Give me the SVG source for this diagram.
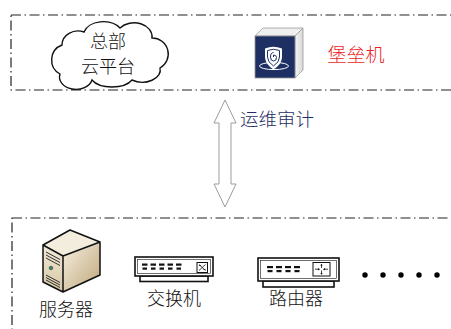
<svg xmlns="http://www.w3.org/2000/svg" width="451" height="329" viewBox="0 0 451 329">
  <style>
    .zone { fill: none; stroke: #222; stroke-width: 1.2; stroke-dasharray: 10 3.5 1.5 3.5; }
    .label { font-family: "Noto Sans CJK SC", "Noto Sans", sans-serif; font-weight: 300; font-size: 18px; fill: #111; text-anchor: middle; }
    .dev { fill: #fff; stroke: #111; stroke-width: 1.6; }
    .port { fill: #111; }
  </style>
  <defs>
    <linearGradient id="srvSide" x1="0" y1="0" x2="1" y2="1">
      <stop offset="0" stop-color="#f6f0e2"/>
      <stop offset="1" stop-color="#bfa77a"/>
    </linearGradient>
    <linearGradient id="srvFront" x1="0" y1="0" x2="0" y2="1">
      <stop offset="0" stop-color="#f1ead8"/>
      <stop offset="1" stop-color="#d6c7a2"/>
    </linearGradient>
    <linearGradient id="boxSide" x1="0" y1="0" x2="1" y2="0">
      <stop offset="0" stop-color="#f4f4f4"/>
      <stop offset="1" stop-color="#d8d8d8"/>
    </linearGradient>
  </defs>

  <!-- zones -->
  <rect class="zone" x="11" y="15" width="460" height="75"/>
  <rect class="zone" x="12" y="218" width="460" height="130"/>

  <!-- cloud platform -->
  <g id="cloud">
    <path d="M62,45 A16,14 0 0 1 84,32 A20,14 0 0 1 120,28 A18,14 0 0 1 152,38 A16,16 0 0 1 160,68 A18,12 0 0 1 132,80 A22,12 0 0 1 92,80 A16,12 0 0 1 60,74 A16,16 0 0 1 62,45 Z" fill="#fff" stroke="#111" stroke-width="1.4"/>
    <text class="label" x="108" y="48">总部</text>
    <text class="label" x="108" y="72.5">云平台</text>
  </g>

  <!-- bastion host -->
  <g id="bastion">
    <polygon points="255,36 263,28 303,28 295,36" fill="#efefef" stroke="#9a9a9a" stroke-width="0.8"/>
    <polygon points="295,36 303,28 303,70 295,78" fill="url(#boxSide)" stroke="#9a9a9a" stroke-width="0.8"/>
    <rect x="255" y="36" width="40" height="42" fill="#1e2f63" stroke="#9a9a9a" stroke-width="0.8"/>
    <ellipse cx="274" cy="66" rx="14.5" ry="3.6" fill="none" stroke="#fff" stroke-width="1"/>
    <path d="M265,48.5 Q273,45 282,48.5 L282,57 Q282,64 273.5,69.5 Q265,64 265,57 Z" fill="#fff"/>
    <path d="M267.5,50.5 Q273.5,48 279.5,50.5 L279.5,57 Q279.5,62 273.5,66 Q267.5,62 267.5,57 Z" fill="none" stroke="#1e2f63" stroke-width="1"/>
    <path d="M273.5,57 L273.5,55 Q276.5,55 276.5,57.5 Q276.5,61 273.5,61 Q270.5,61 270.5,57 Q270.5,52.5 273.5,52.5" fill="none" stroke="#1e2f63" stroke-width="1"/>
    <text x="356" y="62" style="font-family:'Noto Sans CJK SC','Noto Sans',sans-serif;font-weight:300;font-size:19px;fill:#ee1c25;text-anchor:middle">堡垒机</text>
  </g>

  <!-- audit link -->
  <g id="connectors">
    <polygon points="225,100 236,123 231,123 231,184 236,184 225,207 214,184 219,184 219,123 214,123" fill="#fff" stroke="#9c9c9c" stroke-width="1"/>
    <text x="240" y="126" style="font-family:'Noto Sans CJK SC','Noto Sans',sans-serif;font-weight:300;font-size:18.5px;fill:#1f2d66">运维审计</text>
  </g>

  <!-- server -->
  <g id="server">
    <polygon points="43,245 70,230 100,242 63,256" fill="#f3eddd"/>
    <polygon points="63,256 100,242 100,275 63,292" fill="url(#srvSide)"/>
    <polygon points="43,245 63,256 63,292 43,282" fill="url(#srvFront)"/>
    <path d="M43,245 L70,230 L100,242 L100,275 L63,292 L43,282 Z M43,245 L63,256 L100,242 M63,256 L63,292" fill="none" stroke="#111" stroke-width="1.5" stroke-linejoin="round"/>
    <g stroke="#333" stroke-width="1">
      <line x1="46" y1="252" x2="60" y2="259.5"/>
      <line x1="46" y1="255" x2="60" y2="262.5"/>
      <line x1="46" y1="258" x2="60" y2="265.5"/>
      <line x1="46" y1="275" x2="60" y2="282.5"/>
      <line x1="46" y1="277.5" x2="60" y2="285"/>
      <line x1="46" y1="280" x2="60" y2="287.5"/>
    </g>
    <circle cx="51" cy="268" r="1.8" fill="#2f8f6a" stroke="#333" stroke-width="0.6"/>
    <text class="label" x="66" y="316">服务器</text>
  </g>

  <!-- switch -->
  <g id="switch">
    <rect class="dev" x="140" y="276" width="68" height="5.5"/>
    <rect class="dev" x="135" y="257" width="78" height="19"/>
    <rect x="137.5" y="259.5" width="73" height="14" fill="none" stroke="#111" stroke-width="0.6"/>
    <g class="port">
      <rect x="142" y="263.5" width="5.5" height="2.2"/><rect x="142.5" y="267.5" width="4.5" height="2.2"/>
      <rect x="150.5" y="263.5" width="5.5" height="2.2"/><rect x="151" y="267.5" width="4.5" height="2.2"/>
      <rect x="159" y="263.5" width="5.5" height="2.2"/><rect x="159.5" y="267.5" width="4.5" height="2.2"/>
      <rect x="167.5" y="263.5" width="5.5" height="2.2"/><rect x="168" y="267.5" width="4.5" height="2.2"/>
      <rect x="176" y="263.5" width="5.5" height="2.2"/><rect x="176.5" y="267.5" width="4.5" height="2.2"/>
    </g>
    <rect x="197" y="262.5" width="10.5" height="10" fill="#fff" stroke="#111" stroke-width="1"/>
    <path d="M199,264.5 L205.5,270.5 M199,270.5 L205.5,264.5 M199,265.5 L201,265.5 M205.5,269.5 L203.5,269.5" fill="none" stroke="#111" stroke-width="0.8"/>
    <text class="label" x="174" y="305">交换机</text>
  </g>

  <!-- router -->
  <g id="router">
    <rect class="dev" x="263" y="281" width="71" height="6"/>
    <rect class="dev" x="258" y="258" width="81" height="23"/>
    <rect x="260.5" y="260.5" width="76" height="18" fill="none" stroke="#111" stroke-width="0.6"/>
    <g class="port">
      <rect x="267" y="266" width="6" height="2.2"/><rect x="267.5" y="270" width="5" height="2.2"/>
      <rect x="276" y="266" width="6" height="2.2"/><rect x="276.5" y="270" width="5" height="2.2"/>
      <rect x="285" y="266" width="6" height="2.2"/><rect x="285.5" y="270" width="5" height="2.2"/>
      <rect x="294" y="266" width="6" height="2.2"/><rect x="294.5" y="270" width="5" height="2.2"/>
    </g>
    <rect x="313" y="262.5" width="17" height="13.5" fill="#fff" stroke="#111" stroke-width="1"/>
    <path d="M321.5,264 L321.5,268 M321.5,270.5 L321.5,274.5 M315,269.2 L319.5,269.2 M323.5,269.2 L328,269.2" fill="none" stroke="#111" stroke-width="0.8"/>
    <path d="M320.2,265.6 L321.5,264 L322.8,265.6 Z M320.2,272.9 L321.5,274.5 L322.8,272.9 Z M318,268 L319.8,269.2 L318,270.4 Z M325,268 L323.2,269.2 L325,270.4 Z" fill="#111"/>
    <text class="label" x="296" y="305">路由器</text>
  </g>

  <!-- more devices -->
  <g id="more" fill="#000">
    <circle cx="365" cy="275" r="2.7"/>
    <circle cx="383" cy="275" r="2.7"/>
    <circle cx="401" cy="275" r="2.7"/>
    <circle cx="419" cy="275" r="2.7"/>
    <circle cx="437" cy="275" r="2.7"/>
  </g>
</svg>
